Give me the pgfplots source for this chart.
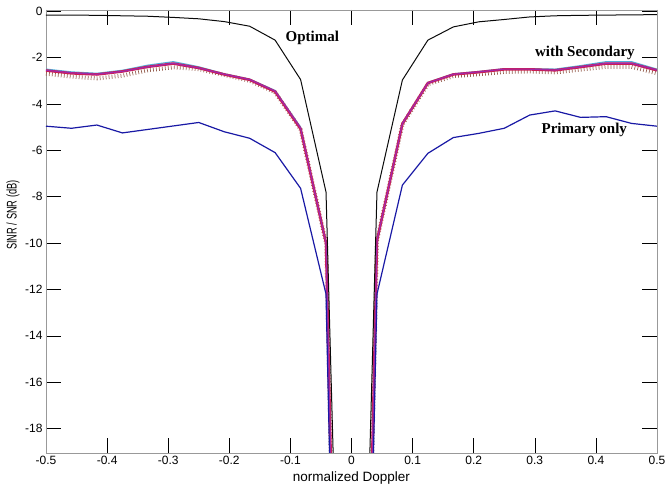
\documentclass[border=0pt]{standalone}
\usepackage{fontspec}
\setmainfont{Liberation Sans}
\newfontfamily\timesfont{Liberation Serif}
\usepackage{pgfplots}
\pgfplotsset{compat=1.18}

\definecolor{optblack}{RGB}{10,10,10}
\definecolor{primblue}{RGB}{25,25,165}
\definecolor{secred}{RGB}{205,30,80}
\definecolor{secviolet}{RGB}{160,40,170}
\definecolor{seccyan}{RGB}{80,175,220}
\definecolor{secbrown}{RGB}{150,95,80}

\begin{document}
\begin{tikzpicture}
\begin{axis}[
  at={(0,0)}, anchor=south west,
  scale only axis, width=611pt, height=443pt,
  xmin=-0.5, xmax=0.5, ymin=-19.05, ymax=0.05,
  xtick={-0.5,-0.4,-0.3,-0.2,-0.1,0,0.1,0.2,0.3,0.4,0.5},
  ytick={-18,-16,-14,-12,-10,-8,-6,-4,-2,0},
  xticklabel style={/pgf/number format/fixed, /pgf/number format/precision=1},
  /pgf/number format/assume math mode=true,
  tick label style={font=\fontsize{12}{12}\selectfont},
  tick align=inside, major tick length=15pt,
  axis line style={gray!80},
  every tick/.style={black, line width=0.5pt},
  xlabel={normalized Doppler},
  ylabel={\scalebox{0.66}[1]{SINR / SNR (dB)}},
  xlabel style={font=\fontsize{13.5}{13.5}\selectfont, at={(axis description cs:0.5,-0.0564)}, anchor=center},
  ylabel style={font=\fontsize{14}{14}\selectfont, at={(axis description cs:-0.054,0.537)}, anchor=center},
]
% with Secondary, dotted variant
\addplot[secbrown, line width=4pt, dash pattern=on 0.7pt off 2.3pt] coordinates {
(-0.5,-2.70) (-0.4583,-2.82) (-0.4167,-2.90) (-0.375,-2.78) (-0.3333,-2.55) (-0.2917,-2.42) (-0.25,-2.50)
(-0.2083,-2.75) (-0.1667,-3.00) (-0.125,-3.50) (-0.0833,-5.10) (-0.0417,-10.0) (0,-60)
(0.0417,-9.9) (0.0833,-4.90) (0.125,-3.15) (0.1667,-2.80) (0.2083,-2.72) (0.25,-2.62) (0.2917,-2.60)
(0.3333,-2.64) (0.375,-2.52) (0.4167,-2.40) (0.4583,-2.40) (0.5,-2.68)};
% with Secondary, cyan variant
\addplot[seccyan, line width=1.2pt] coordinates {
(-0.5,-2.50) (-0.4583,-2.62) (-0.4167,-2.68) (-0.375,-2.55) (-0.3333,-2.33) (-0.2917,-2.18) (-0.25,-2.40)
(-0.2083,-2.70) (-0.1667,-2.93) (-0.125,-3.42) (-0.0833,-5.00) (-0.0417,-10.0) (0,-60)
(0.0417,-9.9) (0.0833,-4.82) (0.125,-3.07) (0.1667,-2.70) (0.2083,-2.60) (0.25,-2.48) (0.2917,-2.48)
(0.3333,-2.50) (0.375,-2.35) (0.4167,-2.18) (0.4583,-2.18) (0.5,-2.50)};
% with Secondary, red variant
\addplot[secred, line width=2.6pt] coordinates {
(-0.5,-2.56) (-0.4583,-2.68) (-0.4167,-2.73) (-0.375,-2.60) (-0.3333,-2.40) (-0.2917,-2.26) (-0.25,-2.45)
(-0.2083,-2.73) (-0.1667,-2.96) (-0.125,-3.47) (-0.0833,-5.08) (-0.0417,-10.0) (0,-60)
(0.0417,-9.9) (0.0833,-4.86) (0.125,-3.10) (0.1667,-2.73) (0.2083,-2.63) (0.25,-2.51) (0.2917,-2.51)
(0.3333,-2.55) (0.375,-2.41) (0.4167,-2.26) (0.4583,-2.26) (0.5,-2.55)};
% with Secondary, violet variant
\addplot[secviolet, line width=1.2pt] coordinates {
(-0.5,-2.55) (-0.4583,-2.66) (-0.4167,-2.72) (-0.375,-2.60) (-0.3333,-2.40) (-0.2917,-2.25) (-0.25,-2.45)
(-0.2083,-2.72) (-0.1667,-2.95) (-0.125,-3.45) (-0.0833,-5.05) (-0.0417,-10.0) (0,-60)
(0.0417,-9.9) (0.0833,-4.85) (0.125,-3.10) (0.1667,-2.72) (0.2083,-2.62) (0.25,-2.50) (0.2917,-2.50)
(0.3333,-2.54) (0.375,-2.40) (0.4167,-2.25) (0.4583,-2.25) (0.5,-2.54)};
% Primary only
\addplot[primblue, line width=1.2pt] coordinates {
(-0.5,-4.96) (-0.4583,-5.05) (-0.4167,-4.91) (-0.375,-5.25) (-0.3333,-5.10) (-0.2917,-4.95) (-0.25,-4.80)
(-0.2083,-5.20) (-0.1667,-5.48) (-0.125,-6.10) (-0.0833,-7.64) (-0.0417,-12.2) (0,-62)
(0.0417,-12.2) (0.0833,-7.50) (0.125,-6.13) (0.1667,-5.45) (0.2083,-5.27) (0.25,-5.05) (0.2917,-4.48)
(0.3333,-4.30) (0.375,-4.58) (0.4167,-4.55) (0.4583,-4.84) (0.5,-4.96)};
% Optimal
\addplot[optblack, line width=1pt] coordinates {
(-0.5,-0.17) (-0.4583,-0.17) (-0.4167,-0.18) (-0.375,-0.20) (-0.3333,-0.22) (-0.2917,-0.27) (-0.25,-0.33)
(-0.2083,-0.45) (-0.1667,-0.65) (-0.125,-1.25) (-0.0833,-2.95) (-0.0417,-7.8) (0,-48)
(0.0417,-7.8) (0.0833,-2.97) (0.125,-1.25) (0.1667,-0.68) (0.2083,-0.46) (0.25,-0.36) (0.2917,-0.25)
(0.3333,-0.20) (0.375,-0.18) (0.4167,-0.17) (0.4583,-0.16) (0.5,-0.15)};
\node[font=\timesfont\bfseries\fontsize{15}{15}\selectfont] at (axis cs:-0.064,-1.16) {Optimal};
\node[font=\timesfont\bfseries\fontsize{15}{15}\selectfont] at (axis cs:0.382,-1.81) {with Secondary};
\node[font=\timesfont\bfseries\fontsize{15}{15}\selectfont] at (axis cs:0.381,-5.13) {Primary only};
\end{axis}
\pgfresetboundingbox
\path[use as bounding box] (-46pt,-38pt) rectangle (621pt,453pt);
\end{tikzpicture}
\end{document}
